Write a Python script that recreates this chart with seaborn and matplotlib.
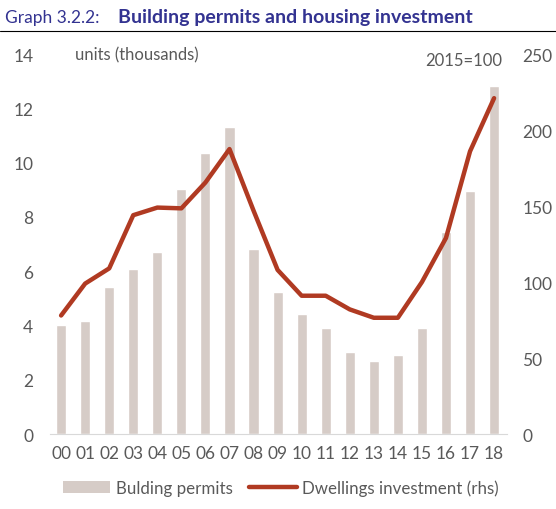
import numpy as np
import pandas as pd
import seaborn as sns
import matplotlib.pyplot as plt
from matplotlib.lines import Line2D
from matplotlib.patches import Patch

# Data
years = ["00", "01", "02", "03", "04", "05", "06", "07", "08", "09",
         "10", "11", "12", "13", "14", "15", "16", "17", "18"]
permits = [4.0, 4.15, 5.43, 6.07, 6.69, 9.03, 10.37, 11.31, 6.82, 5.24,
           4.41, 3.91, 3.02, 2.70, 2.90, 3.91, 7.43, 8.97, 12.83]
investment = [78, 99, 109, 144, 149, 148.5, 165.5, 187.5, 147, 108,
              91, 91, 82, 76.5, 76.5, 100, 129, 186, 221]

df = pd.DataFrame({"year": years, "permits": permits, "investment": investment})

bar_color = "#d6ccc7"
line_color = "#b03a22"
text_color = "#595959"
title_color = "#333391"

sns.set_style("white")
plt.rcParams['font.family'] = ['Lato', 'DejaVu Sans']

fig = plt.figure(figsize=(5.56, 5.10), dpi=100)
ax = fig.add_axes([0.09, 0.147, 0.822, 0.745])

sns.barplot(data=df, x="year", y="permits", color=bar_color, width=0.42,
            saturation=1, ax=ax)
ax.set_ylim(0, 14)
ax.set_yticks(range(0, 15, 2))
ax.set_xlim(-0.46, 18.54)

ax2 = ax.twinx()
sns.lineplot(x=np.arange(len(years)), y=df["investment"], color=line_color,
             lw=3.2, ax=ax2)
ax2.set_ylim(0, 250)
ax2.set_yticks(range(0, 251, 50))

for a in (ax, ax2):
    for s in a.spines.values():
        s.set_visible(False)
    a.set_xlabel("")
    a.set_ylabel("")
    a.tick_params(length=0, labelsize=12.5, colors=text_color)
ax.spines["bottom"].set_visible(True)
ax.spines["bottom"].set_color("#d9d9d9")
ax.tick_params(axis="x", pad=8)
ax.tick_params(axis="y", pad=12)
ax2.tick_params(axis="y", pad=11)

ax.text(0.055, 1.0, "units (thousands)", transform=ax.transAxes,
        fontsize=12, color=text_color, va="center")
ax2.text(0.99, 0.985, "2015=100", transform=ax2.transAxes,
         fontsize=12, color=text_color, va="center", ha="right")

# Title and rule
fig.text(0.009, 0.965, "Graph 3.2.2:", fontsize=12.5, color=title_color, va="center")
fig.text(0.212, 0.965, "Building permits and housing investment", fontsize=14,
         color=title_color, fontweight="bold", va="center")
fig.add_artist(Line2D([0.0, 1.0], [0.937, 0.937], color="black", lw=0.8))

handles = [Patch(facecolor=bar_color, edgecolor="none"),
           Line2D([0], [0], color=line_color, lw=3.2)]
fig.legend(handles, ["Bulding permits", "Dwellings investment (rhs)"],
           loc="lower center", bbox_to_anchor=(0.505, -0.005), ncol=2, frameon=False,
           fontsize=12.2, labelcolor=text_color, handlelength=2.8,
           handletextpad=0.3, columnspacing=1.0)

fig.savefig("out.png", dpi=100)
